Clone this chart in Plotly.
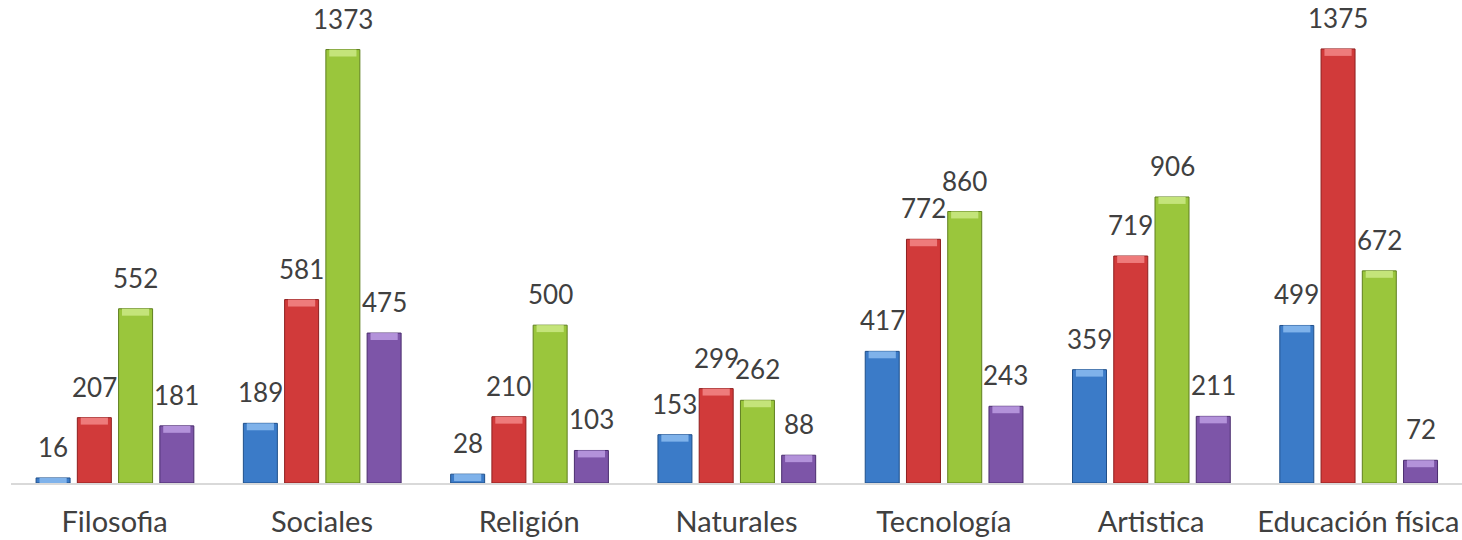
import plotly.graph_objects as go

categories = ["Filosofia", "Sociales", "Religión", "Naturales", "Tecnología", "Artistica", "Educación física"]
serie_azul = [16, 189, 28, 153, 417, 359, 499]
serie_roja = [207, 581, 210, 299, 772, 719, 1375]
serie_verde = [552, 1373, 500, 262, 860, 906, 672]
serie_morada = [181, 475, 103, 88, 243, 211, 72]

series = [serie_azul, serie_roja, serie_verde, serie_morada]
fills = ["#3B7BC8", "#D13A3A", "#9AC63C", "#7D55A8"]
edges = ["#1F4F8A", "#8E1F1F", "#5F7F1F", "#4A2D6E"]
caps = ["#7FB2EA", "#EE7B7B", "#C4E47A", "#B392DA"]

FONT = "Lato"
TXT = "#404040"
bar_w = 0.164
step = 0.199
first_off = -0.379
cap_units = 22

x = list(range(len(categories)))
fig = go.Figure()
annotations = []
for i, vals in enumerate(series):
    off = first_off + i * step
    fig.add_trace(go.Bar(
        x=x, y=vals, width=bar_w, offset=off,
        marker=dict(color=fills[i], line=dict(color=edges[i], width=1)),
        showlegend=False, hoverinfo="skip",
    ))
    capv = [min(cap_units, v) for v in vals]
    fig.add_trace(go.Bar(
        x=x, y=capv, base=[v - c for v, c in zip(vals, capv)],
        width=bar_w * 0.8, offset=off + bar_w * 0.1,
        marker=dict(color=caps[i], line=dict(width=0)),
        showlegend=False, hoverinfo="skip",
    ))
    for xi, v in zip(x, vals):
        annotations.append(dict(
            x=xi + off + bar_w / 2, y=v, xref="x", yref="y",
            text=str(v), showarrow=False, yanchor="bottom", xanchor="center",
            yshift=13, font=dict(family=FONT, size=26, color=TXT),
        ))

fig.update_layout(
    width=1462, height=540,
    margin=dict(l=11, r=0, t=0, b=57),
    barmode="overlay",
    plot_bgcolor="white", paper_bgcolor="white",
    font=dict(family=FONT, color=TXT),
    showlegend=False,
    annotations=annotations,
)
fig.update_xaxes(
    tickmode="array", tickvals=x, ticktext=categories,
    range=[-0.5, len(categories) - 0.5],
    showline=True, linecolor="#D9D9D9", linewidth=2,
    ticks="", showgrid=False, zeroline=False,
    tickfont=dict(family=FONT, size=29, color=TXT),
    ticklabelstandoff=12, ticklabeloverflow="allow",
)
fig.update_yaxes(
    range=[0, 1530], showticklabels=False, showgrid=False,
    zeroline=False, showline=False, ticks="",
)
fig.write_html(
    "out.html",
    config={"displayModeBar": False},
    post_script="document.body.style.margin='0px';",
)
